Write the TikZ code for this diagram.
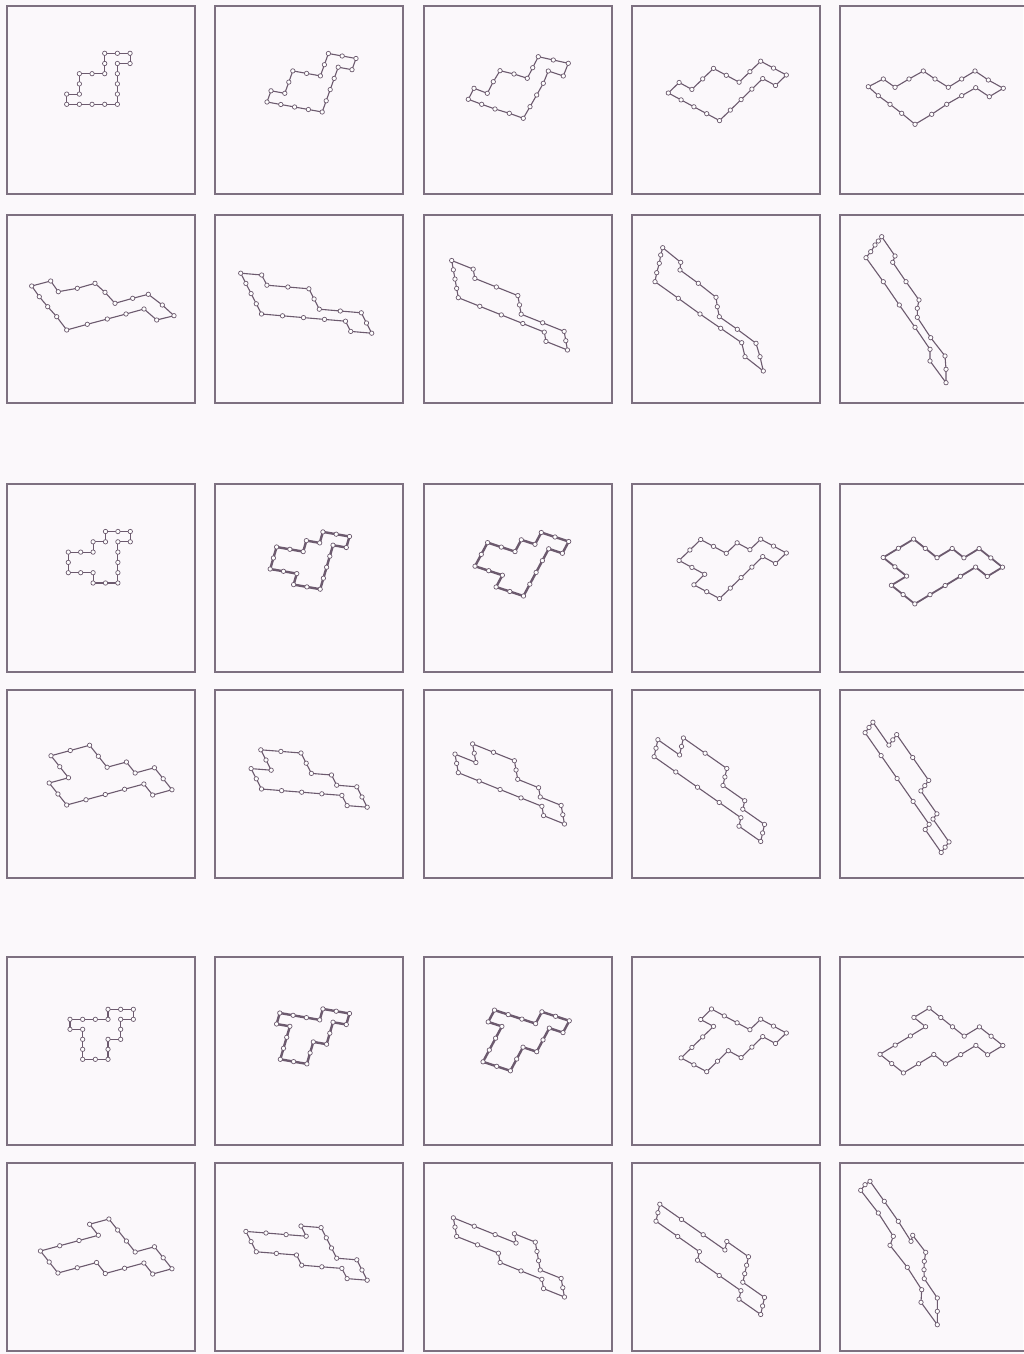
\documentclass[tikz,border=0pt]{standalone}
\begin{document}
\definecolor{lc}{RGB}{108,90,110}
\definecolor{bc}{RGB}{125,112,128}
\definecolor{bg}{RGB}{251,248,251}
\tikzset{
  poly/.style={draw=lc,line width=1.1pt,line join=round,line cap=round},
  heavy/.style={line width=2.4pt},
  mid/.style={line width=1.8pt},
  vtx/.style={circle,draw=lc,fill=white,inner sep=0pt,minimum size=4.4pt,line width=0.7pt},
  frame/.style={draw=bc,line width=1.2pt}
}
\def\PA{4/5,5/5,5/4,4/4,4/3,4/2,4/1,4/0,3/0,2/0,1/0,0/0,0/1,1/1,1/2,1/3,2/3,3/3,3/4}
\def\PB{4/5,5/5,5/4,4/4,4/3,4/2,4/1,4/0,3/0,2/0,2/1,1/1,0/1,0/2,0/3,1/3,2/3,2/4,3/4}
\def\PC{4/5,5/5,5/4,4/4,4/3,4/2,3/2,3/1,3/0,2/0,1/0,1/1,1/2,1/3,0/3,0/4,1/4,2/4,3/4}
\newcommand\shape[3][]{%
  \edef\shplist{#3}%
  \draw[poly,#1] (#2) \foreach \x/\y in \shplist {--(\x,\y)} -- cycle;
  \node[vtx] at (#2) {};
  \foreach \x/\y in \shplist {\node[vtx] at (\x,\y) {};}
}
\newcommand\aff[7]{%
  \begin{scope}[shift={(#1,#2)},x={({#3pt},{-(#4)*1pt})},y={({#5pt},{-(#6)*1pt})}]
  #7
  \end{scope}}
\newcommand\panel[2]{\draw[frame] (#1,#2) rectangle ++(188,188);}
\begin{tikzpicture}[x=1pt,y=-1pt]
\useasboundingbox (0,0) rectangle (1023,1354);
\fill[bg] (0,0) rectangle (1023,1354);
\foreach \by in {6,215,484,690,957,1163}{
  \foreach \bx in {7,215,424,632,840}{\panel{\bx}{\by}}}
% ---------- group 1 ----------
\aff{66.7}{104.3}{12.67}{0}{0}{-10.2}{\shape{3,5}{\PA}}
\aff{267}{102}{13.8}{2.5}{4}{-11.2}{\shape{3,5}{\PA}}
\shape{538.3,56.7}{553.3/60,568.3/63.3,563.3/76,548.3/71,543.3/83.3,536.7/95,530/106.7,523.3/118.3,509.3/113.3,495/109,481.7/104.3,468.3/99.3,474/88.3,487.3/93.3,493.3/81.7,500/70.7,514/74,527.3/78.3,532.7/67.7}
\aff{668.3}{93}{12.8}{6.9}{10.8}{-10.5}{\shape{3,5}{\PA}}
\shape{975,71}{988.3/80,1003.3/88.3,989.3/96.7,975.7/87.7,961.7/95.7,946.7/104.3,931.7/114.3,915/124.3,901.7/113.3,890/104.3,878.3/95.7,868.3/86.7,883.3/79,895/87.3,909/79,923.3/71,935/79,948.3/87.3,961.7/79}
\shape{148.3,294.3}{162.3/305,174/315.7,156.7/320,144/309,126/314,107.3/319,87.3/324.3,66.7/330,56.7/316.7,47.7/306.7,39.3/296.7,31.7/286,50.7/281,58.3/291.7,77.3/288.3,95/283.3,105/292.3,115/303.3,132.7/298.3}
\aff{240.7}{273.2}{5.2}{10.2}{21}{1.8}{\shape{3,5}{\PA}}
\aff{451.7}{260.5}{1.65}{9.3}{21.5}{8.6}{\shape{3,5}{\PA}}
\shape{662.7,247.7}{680.7/262.3,680/270,698.3/283.3,716/297.3,717.3/306.7,719.3/316.7,737.3/329.3,756/343.3,760/356.7,763.3/371,745/356.7,741.7/342.7,720.7/328.3,700/314,678.3/298.3,655/281.7,656.7/272.7,659.3/263.3,660.7/255}
\shape{881.7,236.7}{895/256,892.7/262.3,906/281.7,919/300,917.3/308.3,917.3/317.3,930.7/337.7,945/356,946/369.3,946/382.7,930/361,930/349.3,915/327.3,899.3/305,883.3/281.7,866/257.7,870.7/251.7,875/245,878.3/241}
% ---------- group 2 ----------
\aff{68.3}{583}{12.4}{0}{0}{-10.3}{\shape{3,5}{\PB}}
\aff{267}{580}{13.3}{2.3}{3.2}{-11}{\shape[heavy]{3,5}{\PB}}
\aff{468.7}{578}{13.7}{4.5}{6.3}{-11.8}{\shape[heavy]{3,5}{\PB}}
\aff{668.3}{571}{12.8}{6.9}{10.8}{-10.5}{\shape{3,5}{\PB}}
\aff{868}{566.7}{11.7}{9.3}{15.2}{-9.2}{\shape[mid]{3,5}{\PB}}
\aff{31.7}{761}{8.75}{11}{19.3}{-5.25}{\shape{3,5}{\PB}}
\aff{240.7}{748.2}{5.2}{10.2}{20.1}{1.6}{\shape{3,5}{\PB}}
\aff{451.7}{735.5}{1.65}{9.3}{20.9}{8.4}{\shape{3,5}{\PB}}
\aff{661.7}{722.7}{-1.9}{8.5}{21.7}{15.25}{\shape{3,5}{\PB}}
\aff{880.7}{711.7}{-3.9}{5.25}{16}{22.9}{\shape{3,5}{\PB}}
% ---------- group 3 ----------
\aff{70}{1059.3}{12.67}{0}{0}{-10}{\shape{3,5}{\PC}}
\aff{267}{1057}{13.3}{2.3}{3.2}{-11}{\shape[heavy]{3,5}{\PC}}
\aff{469.3}{1057.3}{13.7}{4.5}{6.3}{-11.8}{\shape[heavy]{3,5}{\PC}}
\aff{668.3}{1051}{12.8}{6.9}{10.8}{-10.5}{\shape{3,5}{\PC}}
\aff{868.3}{1045}{11.7}{9.3}{15.2}{-9.2}{\shape{3,5}{\PC}}
\aff{31.7}{1240}{8.75}{11}{19.3}{-5.25}{\shape{3,5}{\PC}}
\aff{240.7}{1221.2}{5.2}{10.2}{20.1}{1.6}{\shape{3,5}{\PC}}
\aff{451.7}{1208.5}{1.65}{9.3}{20.9}{8.4}{\shape{3,5}{\PC}}
\aff{661.7}{1195.7}{-1.9}{8.5}{21.7}{15.25}{\shape{3,5}{\PC}}
\shape{870,1181.3}{884.3/1201.3,898.3/1221.3,911/1241.3,912.7/1235.3,925.7/1252.3,924.3/1261.3,924/1269.7,924.3/1278.7,937.3/1298,937.3/1311.3,937.3/1324.7,921/1302.3,921.7/1289.7,907.3/1267.3,890/1245.3,893.3/1236.3,878.3/1213,860.7/1190.3,865/1184.7}
\end{tikzpicture}
\end{document}
